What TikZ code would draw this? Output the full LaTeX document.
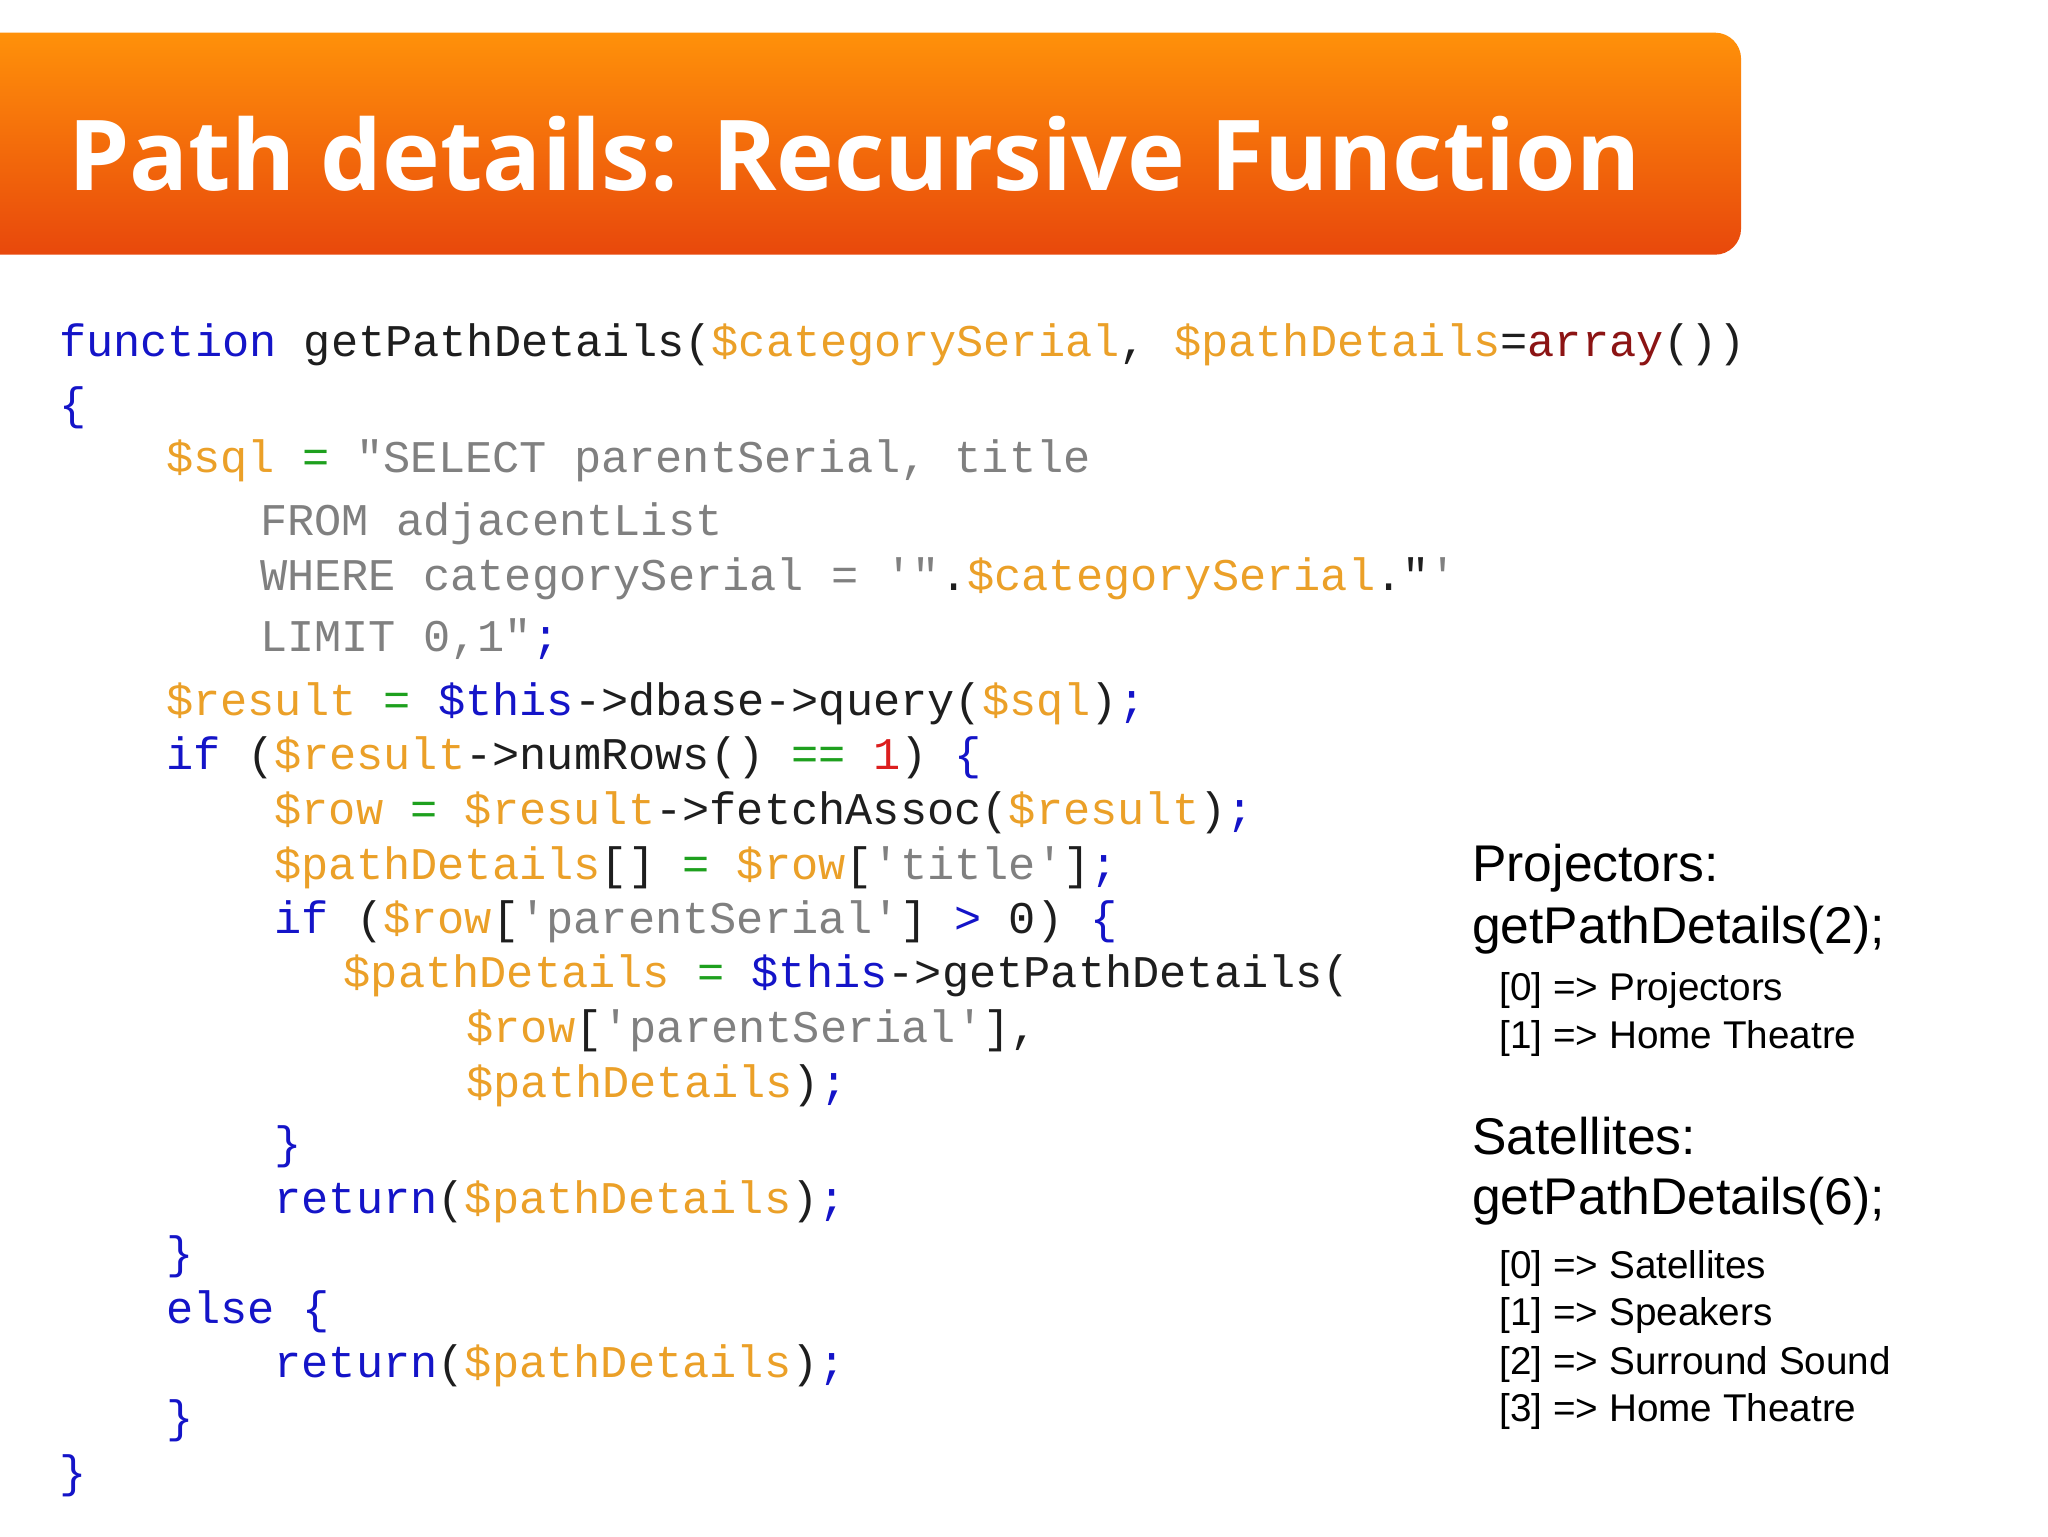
\documentclass[tikz,border=0pt]{standalone}
\usepackage{fontspec}
\setmainfont{Liberation Sans}
\setmonofont{Liberation Mono}
\newfontfamily\titlefont{Open Sans}
\definecolor{kw}{RGB}{20,20,200}
\definecolor{vr}{RGB}{235,160,40}
\definecolor{st}{RGB}{128,128,128}
\definecolor{op}{RGB}{30,160,30}
\definecolor{nm}{RGB}{220,30,30}
\definecolor{ar}{RGB}{140,20,20}
\definecolor{tx}{RGB}{30,30,30}
\newcommand{\kw}[1]{\textcolor{kw}{#1}}
\newcommand{\vr}[1]{\textcolor{vr}{#1}}
\newcommand{\st}[1]{\textcolor{st}{#1}}
\newcommand{\op}[1]{\textcolor{op}{#1}}
\newcommand{\nm}[1]{\textcolor{nm}{#1}}
\begin{document}
\begin{tikzpicture}[x=1pt,y=-1pt,
  code/.style={anchor=base west,inner sep=0pt,font=\ttfamily\fontsize{34.7}{34.7}\selectfont,text=tx},
  big/.style={anchor=base west,inner sep=0pt,font=\fontsize{39.5}{39.5}\selectfont,text=black},
  small/.style={anchor=base west,inner sep=0pt,font=\fontsize{29.6}{29.6}\selectfont,text=black}]
\useasboundingbox (0,0) rectangle (1568,1176);
\fill[white] (0,0) rectangle (1568,1176);
\begin{scope}
\clip (0,0) rectangle (1568,1176);
\shade[rounded corners=20pt,top color={rgb,255:red,255;green,145;blue,10},bottom color={rgb,255:red,232;green,72;blue,12}]
  (-40,25) rectangle (1333,195);
\end{scope}
\node[anchor=west,inner sep=0pt,text=white] (title) at (52,118) {\resizebox{1203pt}{!}{\titlefont\bfseries Path details: Recursive Function}};
\node[code] (l1) at (45,273) {\kw{function} getPathDetails(\vr{\$categorySerial}, \vr{\$pathDetails}=\textcolor{ar}{array}())};
\node[code] (l2) at (45,321) {\kw{\{}};
\node[code] (l3) at (127,362) {\vr{\$sql} \op{=} \st{"SELECT parentSerial, title}};
\node[code] (l4) at (199,410) {\st{FROM adjacentList}};
\node[code] (l5) at (199,452) {\st{WHERE categorySerial = '"}.\vr{\$categorySerial}."\st{'}};
\node[code] (l6) at (199,499) {\st{LIMIT 0,1"}\kw{;}};
\node[code] (l7) at (127,548) {\vr{\$result} \op{=} \kw{\$this}->dbase->query(\vr{\$sql})\kw{;}};
\node[code] (l8) at (127,589) {\kw{if} (\vr{\$result}->numRows() \op{==} \nm{1}) \kw{\{}};
\node[code] (l9) at (210,631) {\vr{\$row} \op{=} \vr{\$result}->fetchAssoc(\vr{\$result})\kw{;}};
\node[code] (l10) at (210,673) {\vr{\$pathDetails}[] \op{=} \vr{\$row}[\st{'title'}]\kw{;}};
\node[code] (l11) at (210,715) {\kw{if} (\vr{\$row}[\st{'parentSerial'}] \kw{>} 0) \kw{\{}};
\node[code] (l12) at (263,756) {\vr{\$pathDetails} \op{=} \kw{\$this}->getPathDetails(};
\node[code] (l13) at (357,798) {\vr{\$row}[\st{'parentSerial'}],};
\node[code] (l14) at (357,840) {\vr{\$pathDetails})\kw{;}};
\node[code] (l15) at (210,887) {\kw{\}}};
\node[code] (l16) at (210,929) {\kw{return}(\vr{\$pathDetails})\kw{;}};
\node[code] (l17) at (127,971) {\kw{\}}};
\node[code] (l18) at (127,1013) {\kw{else \{}};
\node[code] (l19) at (210,1055) {\kw{return}(\vr{\$pathDetails})\kw{;}};
\node[code] (l20) at (127,1097) {\kw{\}}};
\node[code] (l21) at (45,1139) {\kw{\}}};
\node[big] (p1) at (1127,675) {Projectors:};
\node[big] (p2) at (1127,722) {getPathDetails(2);};
\node[small] (p3) at (1148,766) {[0] => Projectors};
\node[small] (p4) at (1148,803) {[1] => Home Theatre};
\node[big] (s1) at (1127,884) {Satellites:};
\node[big] (s2) at (1127,930) {getPathDetails(6);};
\node[small] (s3) at (1148,979) {[0] => Satellites};
\node[small] (s4) at (1148,1015) {[1] => Speakers};
\node[small] (s5) at (1148,1052) {[2] => Surround Sound};
\node[small] (s6) at (1148,1088) {[3] => Home Theatre};
\end{tikzpicture}
\end{document}
